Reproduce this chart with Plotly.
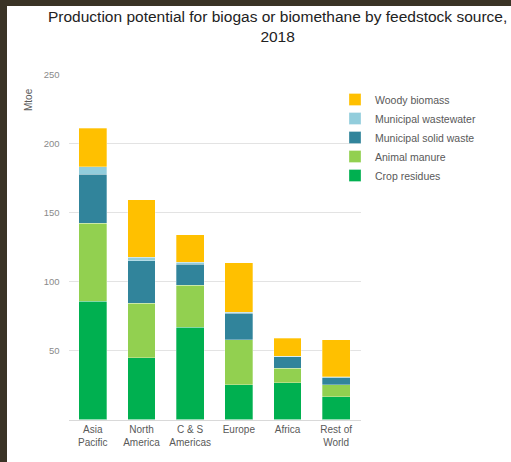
import plotly.graph_objects as go

W, H = 511, 462

regions = ["Asia<br>Pacific", "North<br>America", "C & S<br>Americas", "Europe", "Africa", "Rest of<br>World"]
crop_residues = [85.7, 44.7, 66.8, 25.1, 26.8, 16.6]
animal_manure = [56.7, 39.8, 30.8, 32.7, 10.4, 8.5]
municipal_solid_waste = [35.4, 30.8, 15.0, 19.3, 8.3, 5.3]
municipal_wastewater = [5.6, 2.4, 1.4, 0.9, 0.3, 0.5]
woody_biomass = [27.9, 41.9, 20.2, 35.9, 13.3, 27.1]

series = [
    ("Crop residues", crop_residues, "#00B050"),
    ("Animal manure", animal_manure, "#92D050"),
    ("Municipal solid waste", municipal_solid_waste, "#31849B"),
    ("Municipal wastewater", municipal_wastewater, "#92CDDC"),
    ("Woody biomass", woody_biomass, "#FFC000"),
]

fig = go.Figure()
for name, vals, col in series:
    fig.add_trace(go.Bar(
        x=regions, y=vals, name=name,
        marker=dict(color=col, line=dict(color="rgba(255,255,255,0.6)", width=0.5)),
    ))

font = "Liberation Sans, Arial, sans-serif"
px = lambda v: v / W
py = lambda v: 1 - v / H

fig.update_layout(
    template="none",
    width=W, height=H,
    margin=dict(l=0, r=0, t=0, b=0, autoexpand=False),
    paper_bgcolor="#3a3326",
    plot_bgcolor="rgba(0,0,0,0)",
    barmode="stack",
    bargap=0.43,
    font=dict(family=font, color="#595959", size=10),
    shapes=[dict(type="rect", xref="paper", yref="paper", x0=px(7), x1=1.01, y0=-0.01, y1=py(6),
                 fillcolor="white", line=dict(width=0), layer="below")],
    xaxis=dict(domain=[px(68.5), px(360.5)], showgrid=False, showline=True,
               linecolor="#d9d9d9", linewidth=1, ticks="", automargin=False,
               tickfont=dict(size=10, color="#595959")),
    yaxis=dict(domain=[py(419.5), py(75)], range=[0, 250], tickvals=[50, 100, 150, 200, 250],
               showgrid=True, gridcolor="#e3e3e3", gridwidth=1, zeroline=False, showline=False,
               ticks="", ticklabelstandoff=8, automargin=False,
               tickfont=dict(size=9.5, color="#8a8a8a")),
    legend=dict(x=px(335), y=py(85), xanchor="left", yanchor="top", traceorder="reversed",
                font=dict(size=10.5, color="#595959"), bgcolor="rgba(0,0,0,0)"),
    annotations=[
        dict(text="Production potential for biogas or biomethane by feedstock source,<br>2018",
             x=px(277), y=py(6), xref="paper", yref="paper", xanchor="center", yanchor="top",
             showarrow=False, font=dict(size=15.5, color="#222222", family=font)),
        dict(text="Mtoe", x=px(21), y=py(86), xref="paper", yref="paper", textangle=-90,
             showarrow=False, font=dict(size=10, color="#595959", family=font)),
    ],
)

fig.write_html("out.html")
